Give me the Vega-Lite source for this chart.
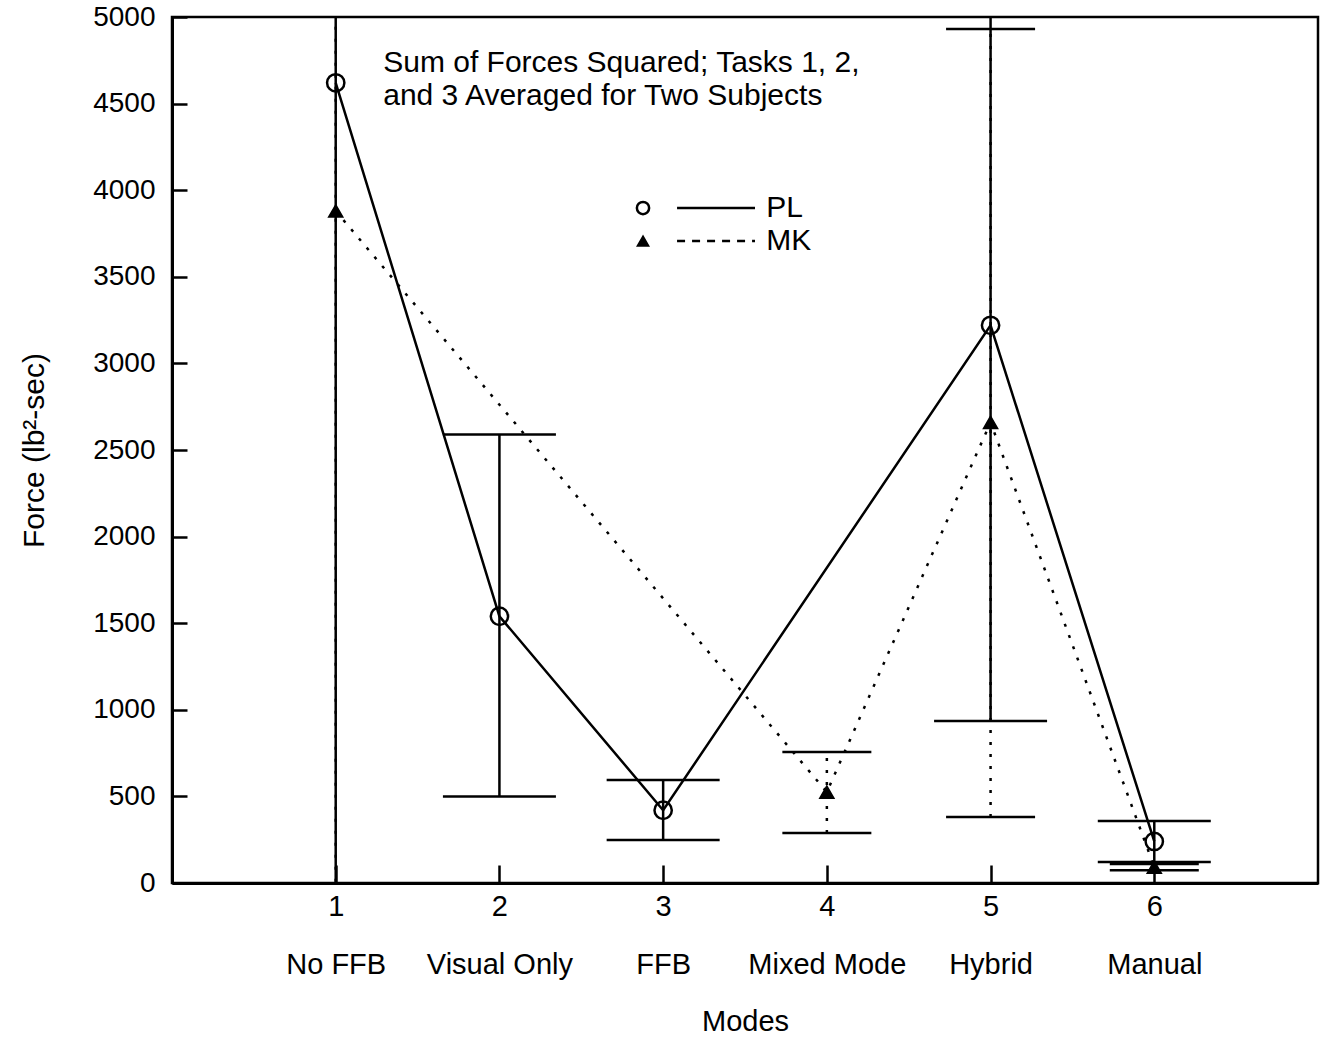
{
  "$schema": "https://vega.github.io/schema/vega-lite/v6.json",
  "width": 1146,
  "height": 866,
  "autosize": {"type": "none"},
  "padding": {"left": 172, "top": 17, "right": 4, "bottom": 155},
  "background": "white",
  "config": {
    "view": {"stroke": "black", "strokeWidth": 2.5},
    "font": "Liberation Sans",
    "axis": {
      "grid": false,
      "zindex": 1,
      "domainColor": "black",
      "domainWidth": 3,
      "tickColor": "black",
      "tickWidth": 2.5,
      "tickOpacity": 1,
      "labelColor": "black",
      "titleColor": "black",
      "labelFont": "Liberation Sans",
      "titleFont": "Liberation Sans",
      "titleFontWeight": "normal"
    }
  },
  "datasets": {
    "obs": [
      {"subject": "PL", "mode": 1, "force": 4620, "low": -100, "high": 9340},
      {"subject": "PL", "mode": 2, "force": 1540, "low": 500, "high": 2590},
      {"subject": "PL", "mode": 3, "force": 420, "low": 248, "high": 595},
      {"subject": "PL", "mode": 5, "force": 3220, "low": 935, "high": 5505},
      {"subject": "PL", "mode": 6, "force": 240, "low": 121, "high": 358},
      {"subject": "MK", "mode": 1, "force": 3880, "low": -200, "high": 7960},
      {"subject": "MK", "mode": 4, "force": 525, "low": 289, "high": 756},
      {"subject": "MK", "mode": 5, "force": 2660, "low": 381, "high": 4931},
      {"subject": "MK", "mode": 6, "force": 92, "low": 74, "high": 110}
    ],
    "legend": [
      {"subject": "PL", "sx": 2.877, "x1": 3.085, "x2": 3.561, "tx": 3.63, "force": 3897},
      {"subject": "MK", "sx": 2.877, "x1": 3.085, "x2": 3.561, "tx": 3.63, "force": 3707}
    ],
    "note": [
      {"text": "Sum of Forces Squared;  Tasks 1, 2,", "mode": 1.29, "force": 4682},
      {"text": "and 3 Averaged for Two Subjects", "mode": 1.29, "force": 4490}
    ]
  },
  "layer": [
    {
      "data": {"name": "obs"},
      "transform": [{"filter": "datum.subject === 'MK'"}],
      "mark": {"type": "rule", "strokeDash": [3, 9], "strokeWidth": 2.5, "color": "black", "clip": true},
      "encoding": {
        "x": {
          "field": "mode", "type": "quantitative",
          "scale": {"domain": [0, 7], "nice": false, "zero": false},
          "axis": {
            "values": [1, 2, 3, 4, 5, 6],
            "format": "d",
            "labelExpr": "[datum.label, ['', 'No FFB', 'Visual Only', 'FFB', 'Mixed Mode', 'Hybrid', 'Manual'][datum.value]]",
            "labelLineHeight": 58,
            "labelFontSize": 29,
            "labelOverlap": false,
            "labelFlush": false,
            "tickSize": -18,
            "labelPadding": 27,
            "title": "Modes",
            "titleFontSize": 29,
            "titlePadding": 28
          }
        },
        "y": {
          "field": "low", "type": "quantitative",
          "scale": {"domain": [0, 5000], "nice": false, "zero": false},
          "axis": {
            "values": [0, 500, 1000, 1500, 2000, 2500, 3000, 3500, 4000, 4500, 5000],
            "format": "d",
            "labelFontSize": 28,
            "tickSize": -15,
            "labelPadding": 32,
            "title": "Force (lb²-sec)",
            "titleFontSize": 30,
            "titlePadding": 43
          }
        },
        "y2": {"field": "high"}
      }
    },
    {
      "data": {"name": "obs"},
      "transform": [
        {"filter": "datum.subject === 'MK'"},
        {"fold": ["low", "high"], "as": ["end", "capval"]}
      ],
      "mark": {"type": "tick", "orient": "horizontal", "size": 89, "thickness": 2.5, "color": "black", "opacity": 1, "clip": true},
      "encoding": {
        "x": {"field": "mode", "type": "quantitative"},
        "y": {"field": "capval", "type": "quantitative"}
      }
    },
    {
      "data": {"name": "obs"},
      "transform": [{"filter": "datum.subject === 'MK'"}],
      "mark": {"type": "line", "strokeDash": [3, 9], "strokeWidth": 2.5, "color": "black"},
      "encoding": {
        "x": {"field": "mode", "type": "quantitative"},
        "y": {"field": "force", "type": "quantitative"}
      }
    },
    {
      "data": {"name": "obs"},
      "transform": [{"filter": "datum.subject === 'MK'"}],
      "mark": {"type": "point", "shape": "triangle-up", "filled": true, "size": 200, "color": "black", "opacity": 1, "stroke": "black", "strokeWidth": 1.5},
      "encoding": {
        "x": {"field": "mode", "type": "quantitative"},
        "y": {"field": "force", "type": "quantitative"}
      }
    },
    {
      "data": {"name": "obs"},
      "transform": [{"filter": "datum.subject === 'PL'"}],
      "mark": {"type": "rule", "strokeWidth": 2.5, "color": "black", "clip": true},
      "encoding": {
        "x": {"field": "mode", "type": "quantitative"},
        "y": {"field": "low", "type": "quantitative"},
        "y2": {"field": "high"}
      }
    },
    {
      "data": {"name": "obs"},
      "transform": [
        {"filter": "datum.subject === 'PL'"},
        {"fold": ["low", "high"], "as": ["end", "capval"]}
      ],
      "mark": {"type": "tick", "orient": "horizontal", "size": 113, "thickness": 2.5, "color": "black", "opacity": 1, "clip": true},
      "encoding": {
        "x": {"field": "mode", "type": "quantitative"},
        "y": {"field": "capval", "type": "quantitative"}
      }
    },
    {
      "data": {"name": "obs"},
      "transform": [{"filter": "datum.subject === 'PL'"}],
      "mark": {"type": "line", "strokeWidth": 2.5, "color": "black"},
      "encoding": {
        "x": {"field": "mode", "type": "quantitative"},
        "y": {"field": "force", "type": "quantitative"}
      }
    },
    {
      "data": {"name": "obs"},
      "transform": [{"filter": "datum.subject === 'PL'"}],
      "mark": {"type": "point", "shape": "circle", "filled": false, "size": 300, "stroke": "black", "strokeWidth": 2.5, "opacity": 1},
      "encoding": {
        "x": {"field": "mode", "type": "quantitative"},
        "y": {"field": "force", "type": "quantitative"}
      }
    },
    {
      "data": {"name": "legend"},
      "mark": {"type": "rule", "strokeWidth": 2.5, "color": "black"},
      "encoding": {
        "x": {"field": "x1", "type": "quantitative"},
        "x2": {"field": "x2"},
        "y": {"field": "force", "type": "quantitative"},
        "strokeDash": {
          "field": "subject", "type": "nominal",
          "scale": {"domain": ["PL", "MK"], "range": [[1, 0], [8, 7]]},
          "legend": null
        }
      }
    },
    {
      "data": {"name": "legend"},
      "transform": [{"filter": "datum.subject === 'PL'"}],
      "mark": {"type": "point", "shape": "circle", "filled": false, "size": 150, "stroke": "black", "strokeWidth": 2.5, "opacity": 1},
      "encoding": {
        "x": {"field": "sx", "type": "quantitative"},
        "y": {"field": "force", "type": "quantitative"}
      }
    },
    {
      "data": {"name": "legend"},
      "transform": [{"filter": "datum.subject === 'MK'"}],
      "mark": {"type": "point", "shape": "triangle-up", "filled": true, "size": 130, "color": "black", "stroke": "black", "strokeWidth": 1.5, "opacity": 1},
      "encoding": {
        "x": {"field": "sx", "type": "quantitative"},
        "y": {"field": "force", "type": "quantitative"}
      }
    },
    {
      "data": {"name": "legend"},
      "mark": {"type": "text", "align": "left", "baseline": "middle", "fontSize": 30, "color": "black", "font": "Liberation Sans"},
      "encoding": {
        "x": {"field": "tx", "type": "quantitative"},
        "y": {"field": "force", "type": "quantitative"},
        "text": {"field": "subject", "type": "nominal"}
      }
    },
    {
      "data": {"name": "note"},
      "mark": {"type": "text", "align": "left", "baseline": "alphabetic", "fontSize": 30, "color": "black", "font": "Liberation Sans"},
      "encoding": {
        "x": {"field": "mode", "type": "quantitative"},
        "y": {"field": "force", "type": "quantitative"},
        "text": {"field": "text", "type": "nominal"}
      }
    }
  ]
}
